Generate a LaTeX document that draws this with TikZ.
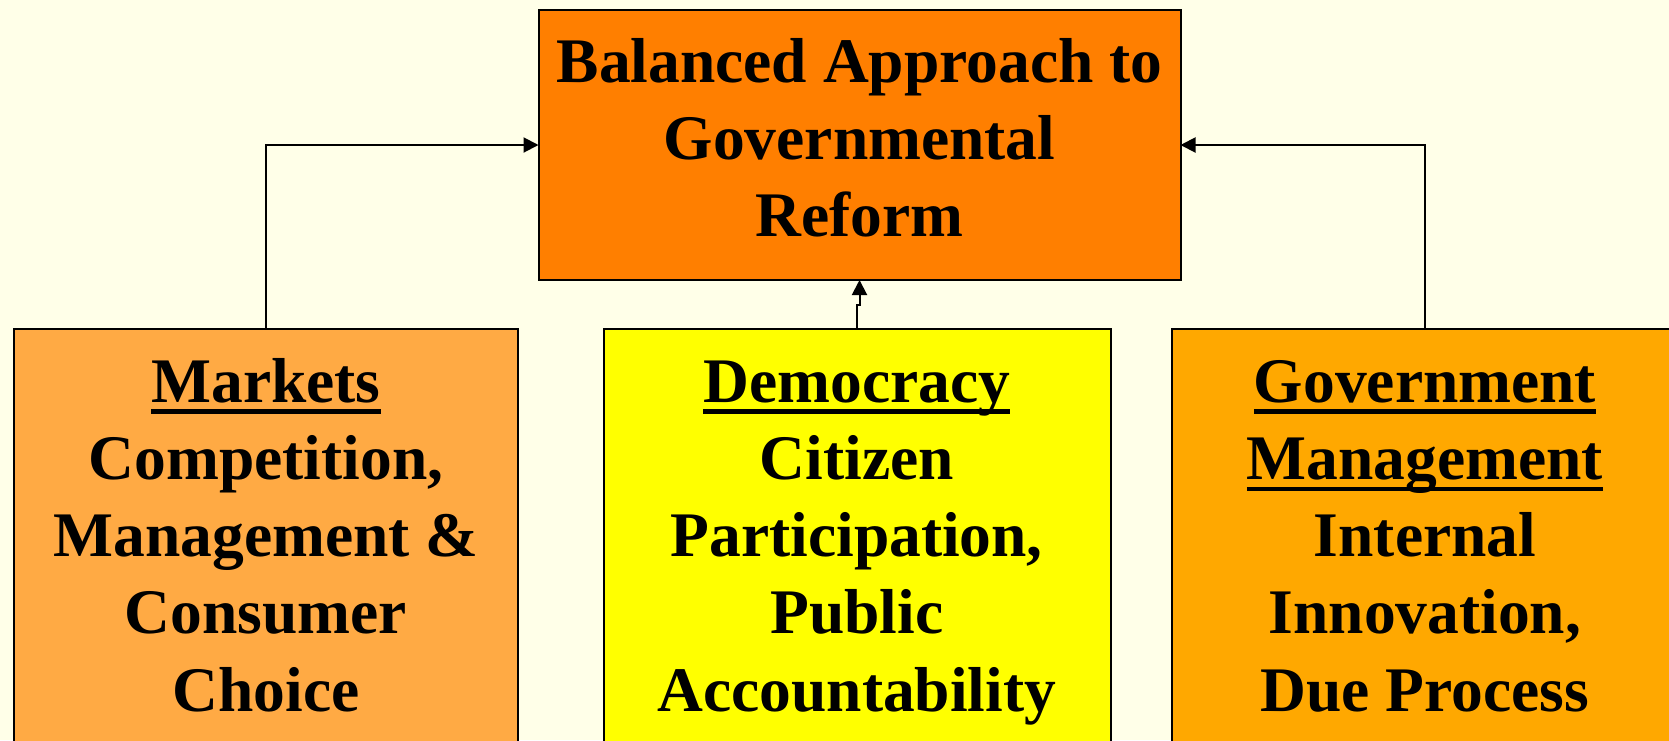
\documentclass[tikz,border=0pt]{standalone}
\usepackage{fontspec}
\setmainfont{Liberation Serif}
\usetikzlibrary{arrows.meta}
\definecolor{pagebg}{RGB}{255,255,232}
\definecolor{topfill}{RGB}{255,127,0}
\definecolor{mktfill}{RGB}{255,170,68}
\definecolor{demfill}{RGB}{255,255,0}
\definecolor{govfill}{RGB}{255,168,0}
% underline at a fixed depth, independent of descenders
\newcommand\ulword[1]{{\setbox0\hbox{#1}\rlap{\rule[-5.8pt]{\wd0}{2.1pt}}\box0}}
\tikzset{
  box/.style={draw=black, line width=1pt, inner sep=0pt, outer sep=0pt, anchor=north west},
  % text blocks are placed by the baseline of their last line
  txt/.style={align=center, inner sep=0pt, anchor=base,
    font=\fontsize{31.75pt}{38.65pt}\selectfont\bfseries},
  link/.style={draw=black, line width=1pt, -{Triangle[length=7.5pt,width=7.5pt]}}
}
\begin{document}
\begin{tikzpicture}[x=0.5pt, y=-0.5pt]
\useasboundingbox (0,0) rectangle (1669,740);
\clip (0,0) rectangle (1669,740);
\fill[pagebg] (0,0) rectangle (1669,740);

% top box
\node[box, fill=topfill, minimum width=321pt, minimum height=135pt] (top) at (538.5,10) {};
\node[txt] (toptxt) at (859.5,236.6) {Balanced Approach to\\Governmental\\Reform};

% three bottom boxes
\node[box, fill=mktfill, minimum width=252pt, minimum height=215pt] (mkt) at (14,329) {};
\node[box, fill=demfill, minimum width=253.5pt, minimum height=215pt] (dem) at (603.5,329) {};
\node[box, fill=govfill, minimum width=253pt, minimum height=215pt] (gov) at (1172,329) {};

\node[txt] (mkttxt) at (266,711.2) {\ulword{Markets}\\Competition,\\Management \&\\Consumer\\Choice};
\node[txt] (demtxt) at (856.75,711.2) {\ulword{Democracy}\\Citizen\\Participation,\\Public\\Accountability};
\node[txt] (govtxt) at (1425,711.2) {\ulword{Government}\\\ulword{Management}\\Internal\\Innovation,\\Due Process};

% connectors
\draw[link] (mkt.north) |- (top.west);
\draw[link] (gov.north) |- (top.east);
\draw[link] (dem.north) -- ++(0,-24) -| (top.south);
\end{tikzpicture}
\end{document}
